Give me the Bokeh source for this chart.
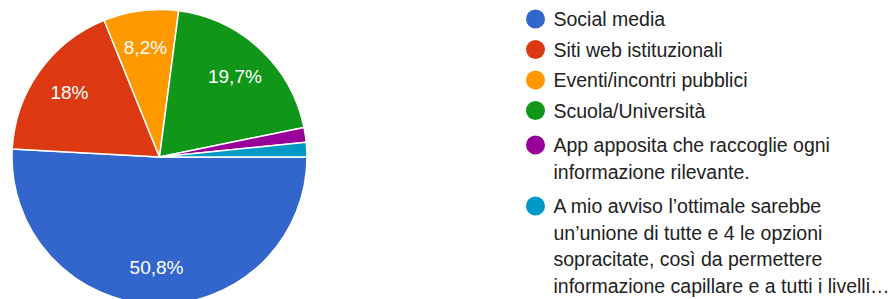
from bokeh.plotting import figure
from bokeh.models import ColumnDataSource, Range1d
from bokeh.core.properties import value
from bokeh.embed import file_html
from bokeh.resources import INLINE
import math

# ---- data ----
categories = [
    "Social media",
    "Siti web istituzionali",
    "Eventi/incontri pubblici",
    "Scuola/Università",
    "App apposita che raccoglie ogni informazione rilevante.",
    "A mio avviso l’ottimale sarebbe un’unione di tutte e 4 le opzioni sopracitate, così da permettere informazione capillare e a tutti i livelli…",
]
percentages = [50.8, 18.0, 8.2, 19.7, 1.6, 1.6]
legend_lines = [
    ["Social media"],
    ["Siti web istituzionali"],
    ["Eventi/incontri pubblici"],
    ["Scuola/Università"],
    ["App apposita che raccoglie ogni", "informazione rilevante."],
    ["A mio avviso l’ottimale sarebbe", "un’unione di tutte e 4 le opzioni",
     "sopracitate, così da permettere", "informazione capillare e a tutti i livelli…"],
]
colors = ["#3366cc", "#dc3912", "#ff9900", "#109618", "#990099", "#0099c6"]

# ---- layout ----
W, H = 892, 299
FONT = "Liberation Sans"
cx, cy, R = 159, H - 156.5, 147.5
label_factor = 0.75
min_label_pct = 5

p = figure(width=W, height=H, output_backend="svg", toolbar_location=None,
           x_range=Range1d(0, W), y_range=Range1d(0, H), min_border=0)
p.axis.visible = False
p.grid.visible = False
p.outline_line_color = None
p.background_fill_color = "white"
p.border_fill_color = "white"

total = sum(percentages)
starts, ends, lx, ly, ltxt = [], [], [], [], []
acc = 0.0
for v in percentages:
    a0 = acc / total * 2 * math.pi
    acc += v
    a1 = acc / total * 2 * math.pi
    # clockwise from east
    starts.append(-a1)
    ends.append(-a0)
    if v >= min_label_pct:
        mid = (a0 + a1) / 2
        lx.append(cx + R * label_factor * math.cos(-mid))
        ly.append(cy + R * label_factor * math.sin(-mid))
        ltxt.append(f"{v:g}".replace(".", ",") + "%")

src = ColumnDataSource(dict(start=starts, end=ends, color=colors, cat=categories))
p.wedge(x=cx, y=cy, radius=R, start_angle="start", end_angle="end",
        direction="anticlock", fill_color="color", line_color="white",
        line_width=1.5, source=src)

p.text(x=lx, y=ly, text=ltxt, text_color="white", text_font=value(FONT),
       text_font_size="19px", text_align="center", text_baseline="middle")

# legend
leg_cx = 535
leg_tx = 553
line_h = 26.5
entry_gap = 4
y = H - 18.5  # data y of first row
dot_x, dot_y, dot_c = [], [], []
tx, ty, tt = [], [], []
for i, lines in enumerate(legend_lines):
    if len(lines) > 1 and i > 0:
        y -= entry_gap
    dot_x.append(leg_cx)
    dot_y.append(y)
    dot_c.append(colors[i])
    for j, ln in enumerate(lines):
        tx.append(leg_tx)
        ty.append(y - j * line_h)
        tt.append(ln)
    y -= (len(lines) - 1) * line_h + line_h + entry_gap

p.scatter(x=dot_x, y=dot_y, size=19, color=dot_c, line_color=None)
p.text(x=tx, y=ty, text=tt, text_color="#222222", text_font=value(FONT),
       text_font_size="19.5px", text_align="left", text_baseline="middle")

open("out.html", "w").write(file_html(p, INLINE))
